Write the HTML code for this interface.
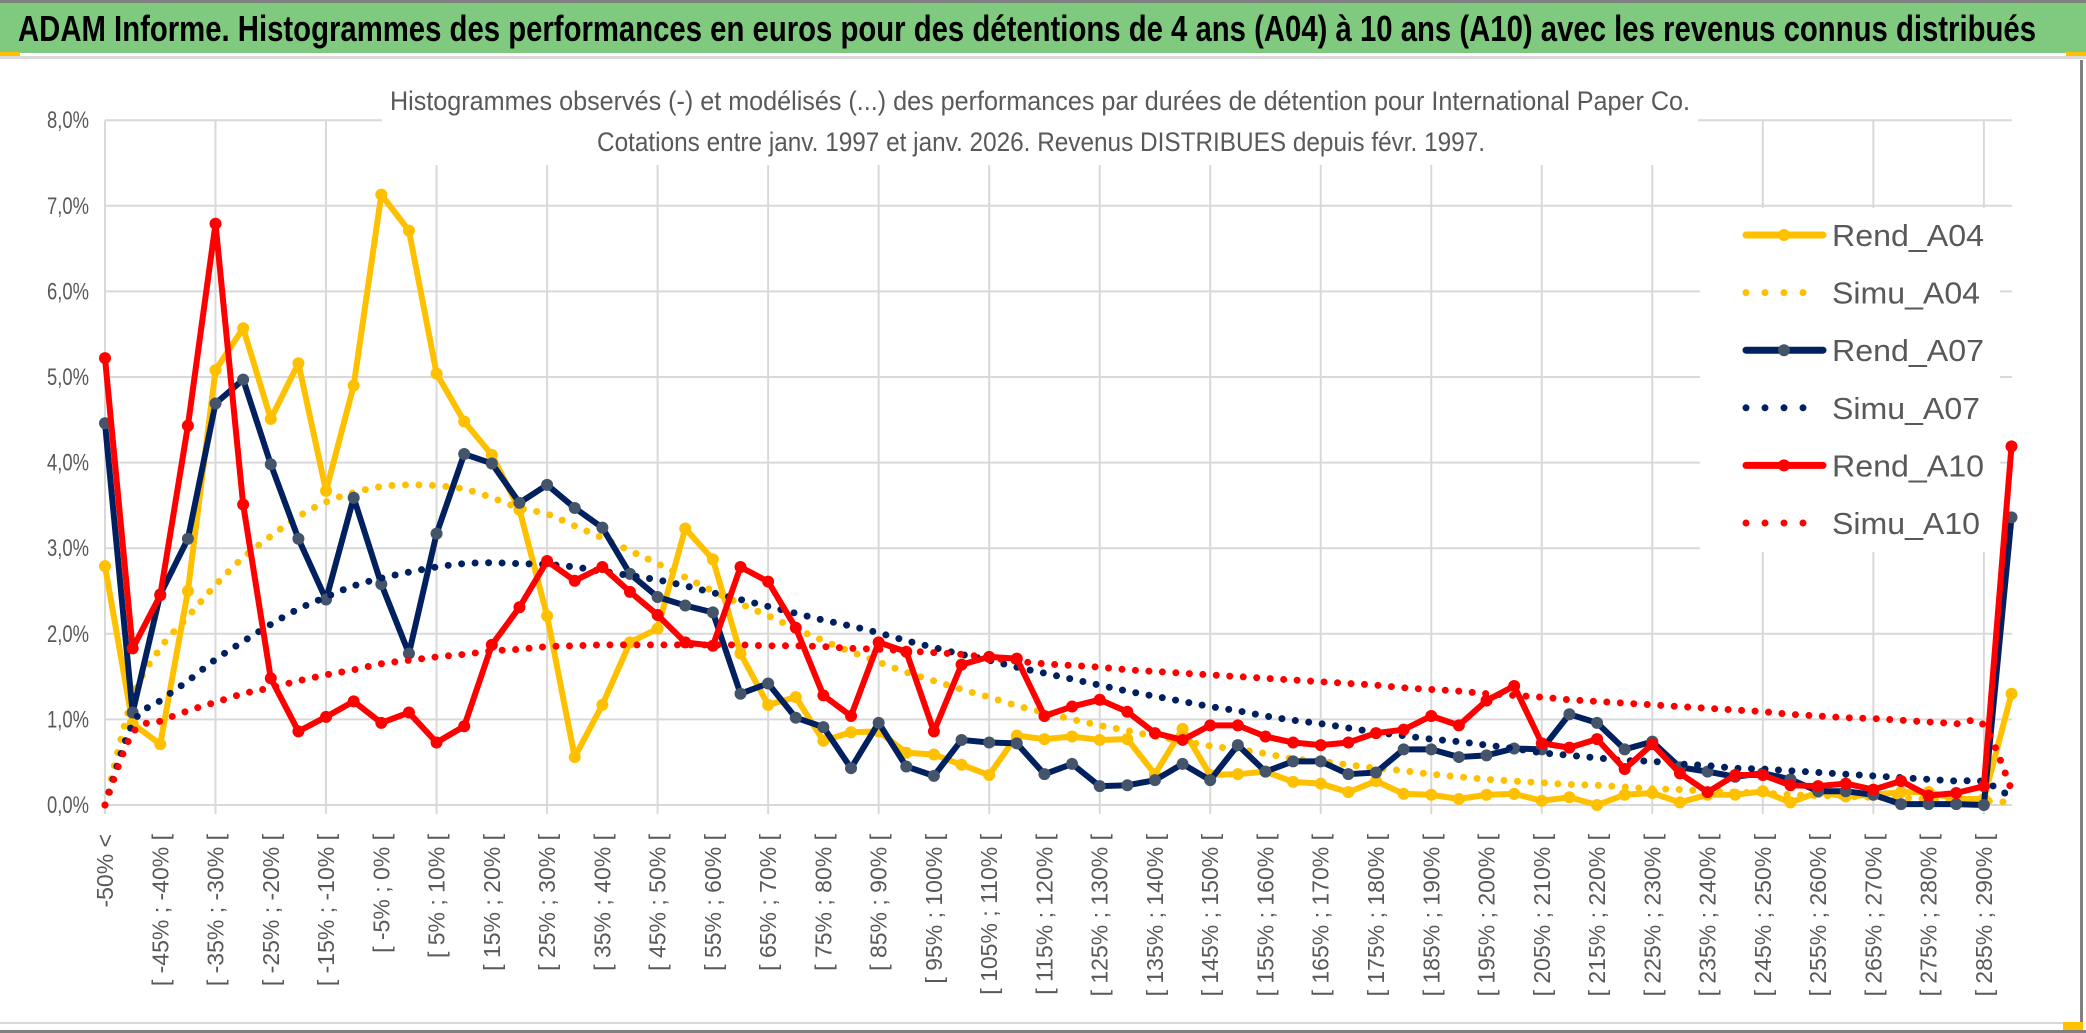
<!DOCTYPE html>
<html><head><meta charset="utf-8">
<style>
html,body{margin:0;padding:0;background:#fff;}
svg{display:block;}
text{font-family:"Liberation Sans",sans-serif;}
</style></head>
<body>
<svg id="chart" width="2086" height="1033" viewBox="0 0 2086 1033" xmlns="http://www.w3.org/2000/svg">
  <rect x="0" y="0" width="2086" height="1033" fill="#ffffff"/>
  <rect x="0" y="0" width="2086" height="3" fill="#808080"/>
  <rect x="0" y="3" width="2086" height="50" fill="#7fca7f"/>
  <rect x="0" y="52" width="20" height="4" fill="#ffc000"/>
  <rect x="2066" y="52" width="20" height="4" fill="#ffc000"/>
  <rect x="0" y="56" width="2086" height="3" fill="#d9d9d9"/>
  <text x="18" y="41" font-size="36" font-weight="bold" fill="#000" textLength="2018" lengthAdjust="spacingAndGlyphs">ADAM Informe. Histogrammes des performances en euros pour des détentions de 4 ans (A04) à 10 ans (A10) avec les revenus connus distribués</text>
  <rect x="0" y="1022" width="2076" height="2" fill="#d9d9d9"/>
  <rect x="0" y="1030" width="2086" height="3" fill="#808080"/>
  <rect x="2080" y="60" width="3" height="973" fill="#808080"/>
  <rect x="2063" y="1022" width="20" height="8" fill="#ffc000"/>
  <g id="grid"></g>
  <g id="yaxis"></g>
  <g id="xaxis"></g>
  <rect x="382" y="82" width="1316" height="83" fill="#ffffff"/>
  <text x="1040" y="110" font-size="27" fill="#595959" text-anchor="middle" textLength="1300" lengthAdjust="spacingAndGlyphs">Histogrammes observés (-) et modélisés (...) des performances par durées de détention pour International Paper Co.</text>
  <text x="1041" y="151" font-size="27" fill="#595959" text-anchor="middle" textLength="888" lengthAdjust="spacingAndGlyphs">Cotations entre janv. 1997 et janv. 2026. Revenus DISTRIBUES depuis févr. 1997.</text>
  <rect x="1700" y="208" width="300" height="344" fill="#ffffff"/>
  <g id="series"></g>
  <g id="legend"></g>
</svg>
<script>
const categoryLows = [];
const yTicks = [0,1,2,3,4,5,6,7,8];
const yTickLabels = ["0,0%","1,0%","2,0%","3,0%","4,0%","5,0%","6,0%","7,0%","8,0%"];
const seriesNames = ["Rend_A04","Simu_A04","Rend_A07","Simu_A07","Rend_A10","Simu_A10"];
const rendA04 = [2.79,0.95,0.71,2.50,5.08,5.57,4.51,5.16,3.67,4.90,7.13,6.71,5.04,4.48,4.09,3.45,2.21,
 0.56,1.17,1.90,2.06,3.23,2.87,1.77,1.17,1.26,0.75,0.85,0.86,0.61,0.59,0.47,0.35,
 0.81,0.77,0.80,0.76,0.77,0.36,0.89,0.35,0.36,0.39,0.27,0.25,0.15,0.28,0.13,0.12,0.07,
 0.12,0.13,0.05,0.09,0.00,0.12,0.14,0.03,0.12,0.12,0.16,0.03,0.15,0.10,0.12,0.15,0.15,0.07,0.07,1.30];
const simuA04 = [0,1.25,1.83,2.20,2.57,2.89,3.14,3.37,3.54,3.65,3.72,3.74,3.73,3.69,3.59,3.47,3.40,
 3.26,3.12,2.97,2.82,2.66,2.50,2.35,2.21,2.06,1.92,1.79,1.67,1.55,1.45,1.35,1.26,
 1.16,1.08,1.00,0.93,0.87,0.80,0.75,0.69,0.65,0.60,0.54,0.51,0.47,0.43,0.40,0.36,0.33,
 0.30,0.28,0.26,0.24,0.23,0.21,0.19,0.18,0.16,0.15,0.14,0.12,0.11,0.10,0.09,0.08,0.07,0.06,0.05,0.03];
const rendA07 = [4.46,1.08,2.46,3.11,4.69,4.97,3.98,3.11,2.40,3.59,2.58,1.77,3.17,4.10,3.99,3.53,3.74,
 3.47,3.24,2.70,2.43,2.33,2.25,1.30,1.42,1.02,0.91,0.43,0.96,0.45,0.34,0.76,0.73,
 0.72,0.36,0.48,0.22,0.23,0.29,0.48,0.29,0.70,0.39,0.51,0.51,0.36,0.38,0.65,0.65,0.56,
 0.58,0.66,0.65,1.06,0.96,0.65,0.74,0.44,0.39,0.33,0.37,0.30,0.16,0.16,0.12,0.01,0.01,0.01,0.00,3.36];
const simuA07 = [0,0.95,1.22,1.45,1.70,1.91,2.11,2.29,2.43,2.56,2.65,2.72,2.78,2.82,2.83,2.82,2.81,
 2.78,2.73,2.68,2.63,2.56,2.48,2.40,2.32,2.24,2.16,2.09,2.01,1.92,1.84,1.76,1.69,
 1.61,1.54,1.47,1.40,1.33,1.27,1.21,1.15,1.10,1.04,0.99,0.95,0.90,0.85,0.81,0.77,0.74,
 0.70,0.66,0.61,0.58,0.55,0.52,0.51,0.48,0.46,0.43,0.42,0.40,0.38,0.36,0.34,0.32,0.30,0.28,0.27,0.09];
const rendA10 = [5.22,1.83,2.45,4.43,6.79,3.51,1.48,0.86,1.03,1.21,0.96,1.08,0.73,0.92,1.87,2.31,2.85,
 2.62,2.78,2.49,2.22,1.90,1.86,2.78,2.61,2.07,1.28,1.04,1.90,1.79,0.86,1.64,1.73,
 1.71,1.04,1.15,1.23,1.09,0.84,0.76,0.93,0.93,0.80,0.73,0.70,0.73,0.84,0.88,1.04,0.93,
 1.22,1.39,0.72,0.67,0.77,0.42,0.71,0.37,0.15,0.35,0.35,0.23,0.22,0.25,0.18,0.28,0.11,0.14,0.22,4.19];
const simuA10 = [0,0.84,0.98,1.10,1.20,1.30,1.37,1.45,1.52,1.58,1.65,1.69,1.73,1.76,1.80,1.82,1.85,
 1.86,1.87,1.87,1.87,1.87,1.87,1.87,1.86,1.86,1.85,1.83,1.82,1.80,1.78,1.76,1.72,
 1.68,1.65,1.63,1.61,1.58,1.56,1.54,1.52,1.50,1.48,1.46,1.44,1.42,1.40,1.37,1.35,1.33,
 1.30,1.28,1.26,1.23,1.21,1.19,1.17,1.15,1.13,1.11,1.09,1.06,1.04,1.02,1.01,0.99,0.97,0.95,0.93,0.18];

const NS = "http://www.w3.org/2000/svg";
const N = rendA04.length;
const X0 = 105, X1 = 2011.5, Y0 = 805, PER = 85.6;
function xs(i){ return X0 + i*(X1-X0)/(N-1); }
function ys(v){ return Y0 - v*PER; }
function mk(tag, parent){ const e = document.createElementNS(NS, tag); parent.appendChild(e); return e; }

for (let i = 0; i < N; i++) {
  let lbl;
  if (i === 0) lbl = "-50% <";
  else if (i === N-1) lbl = "> 290%";
  else { const lo = -50 + 5*(i-1); lbl = "[ " + lo + "% ; " + (lo+5) + "% ["; }
  categoryLows.push(lbl);
}

const grid = document.getElementById('grid');
for (let k = 0; k < yTicks.length; k++) {
  const l = mk('line', grid);
  
  
  l.setAttribute('x1', X0); l.setAttribute('x2', 2012);
  l.setAttribute('y1', ys(yTicks[k])); l.setAttribute('y2', ys(yTicks[k]));
  l.setAttribute('stroke', '#d9d9d9'); l.setAttribute('stroke-width', '2');
}
for (let i = 0; i < N; i += 4) {
  const l = mk('line', grid);
  
  
  l.setAttribute('x1', xs(i)); l.setAttribute('x2', xs(i));
  l.setAttribute('y1', ys(8)); l.setAttribute('y2', 814);
  l.setAttribute('stroke', '#d9d9d9'); l.setAttribute('stroke-width', '2');
}

const yaxis = document.getElementById('yaxis');
for (let k = 0; k < yTicks.length; k++) {
  const t = mk('text', yaxis);
  
  
  t.setAttribute('x', 89); t.setAttribute('y', ys(yTicks[k]) + 8);
  t.setAttribute('text-anchor', 'end'); t.setAttribute('font-size', '24');
  t.setAttribute('fill', '#595959');
  t.setAttribute('textLength', '42'); t.setAttribute('lengthAdjust', 'spacingAndGlyphs');
  t.textContent = yTickLabels[k];
}

const xaxis = document.getElementById('xaxis');
for (let i = 0; i < N; i += 2) {
  const t = mk('text', xaxis);
  
  
  const x = xs(i) + 8, y = 834;
  t.setAttribute('x', x); t.setAttribute('y', y);
  t.setAttribute('transform', 'rotate(-90 ' + x + ' ' + y + ')');
  t.setAttribute('text-anchor', 'end'); t.setAttribute('font-size', '23');
  t.setAttribute('fill', '#595959');
  t.textContent = categoryLows[i];
}

function smoothPath(vals){
  const p = vals.map((v,i)=>[xs(i), ys(v)]);
  let d = 'M' + p[0][0] + ',' + p[0][1];
  for (let i = 0; i < p.length-1; i++) {
    const p0 = p[Math.max(0,i-1)], p1 = p[i], p2 = p[i+1], p3 = p[Math.min(p.length-1,i+2)];
    const c1x = p1[0] + (p2[0]-p0[0])/6, c1y = p1[1] + (p2[1]-p0[1])/6;
    const c2x = p2[0] - (p3[0]-p1[0])/6, c2y = p2[1] - (p3[1]-p1[1])/6;
    d += ' C' + c1x + ',' + c1y + ' ' + c2x + ',' + c2y + ' ' + p2[0] + ',' + p2[1];
  }
  return d;
}

const layer = document.getElementById('series');
function drawRend(vals, color, mcolor, name){
  const g = mk('g', layer);
  
  
  const pl = mk('polyline', g);
  
  
  pl.setAttribute('points', vals.map((v,i)=>xs(i)+','+ys(v)).join(' '));
  pl.setAttribute('fill', 'none'); pl.setAttribute('stroke', color);
  pl.setAttribute('stroke-width', '6'); pl.setAttribute('stroke-linejoin', 'round');
  for (let i = 0; i < vals.length; i++) {
    const c = mk('circle', g);
    
    
    c.setAttribute('cx', xs(i)); c.setAttribute('cy', ys(vals[i]));
    c.setAttribute('r', '6'); c.setAttribute('fill', mcolor);
  }
}
function drawSimu(vals, color, name){
  const p = mk('path', layer);
  
  
  p.setAttribute('d', smoothPath(vals));
  p.setAttribute('fill', 'none'); p.setAttribute('stroke', color);
  p.setAttribute('stroke-width', '7'); p.setAttribute('stroke-linecap', 'round');
  p.setAttribute('stroke-dasharray', '0 13.5');
}
drawRend(rendA04, '#ffc000', '#ffc000', 'rend-a04');
drawSimu(simuA04, '#ffc000', 'simu-a04');
drawRend(rendA07, '#002060', '#44546a', 'rend-a07');
drawSimu(simuA07, '#002060', 'simu-a07');
drawRend(rendA10, '#ff0000', '#ff0000', 'rend-a10');
drawSimu(simuA10, '#ff0000', 'simu-a10');

const legend = document.getElementById('legend');
const legendColors = ['#ffc000','#ffc000','#002060','#002060','#ff0000','#ff0000'];
const legendMarkers = ['#ffc000',null,'#44546a',null,'#ff0000',null];
for (let k = 0; k < seriesNames.length; k++) {
  const cy = 235 + k*57.6;
  const g = mk('g', legend);
  
  
  const l = mk('line', g);
  
  
  l.setAttribute('y1', cy); l.setAttribute('y2', cy);
  l.setAttribute('stroke', legendColors[k]); l.setAttribute('stroke-linecap', 'round');
  if (legendMarkers[k]) {
    l.setAttribute('x1', 1746); l.setAttribute('x2', 1823);
    l.setAttribute('stroke-width', '7');
    const c = mk('circle', g);
    
    
    c.setAttribute('cx', 1784); c.setAttribute('cy', cy); c.setAttribute('r', '6');
    c.setAttribute('fill', legendMarkers[k]);
  } else {
    l.setAttribute('x1', 1746); l.setAttribute('x2', k === 5 ? 1822 : 1805);
    l.setAttribute('stroke-width', '7'); l.setAttribute('stroke-dasharray', '0 19');
  }
  const t = mk('text', g);
  
  
  t.setAttribute('x', 1832); t.setAttribute('y', cy + 11);
  t.setAttribute('font-size', '31'); t.setAttribute('fill', '#595959');
  t.setAttribute('textLength', k % 2 === 0 ? '152' : '148'); t.setAttribute('lengthAdjust', 'spacingAndGlyphs');
  t.textContent = seriesNames[k];
}
</script>
</body></html>
